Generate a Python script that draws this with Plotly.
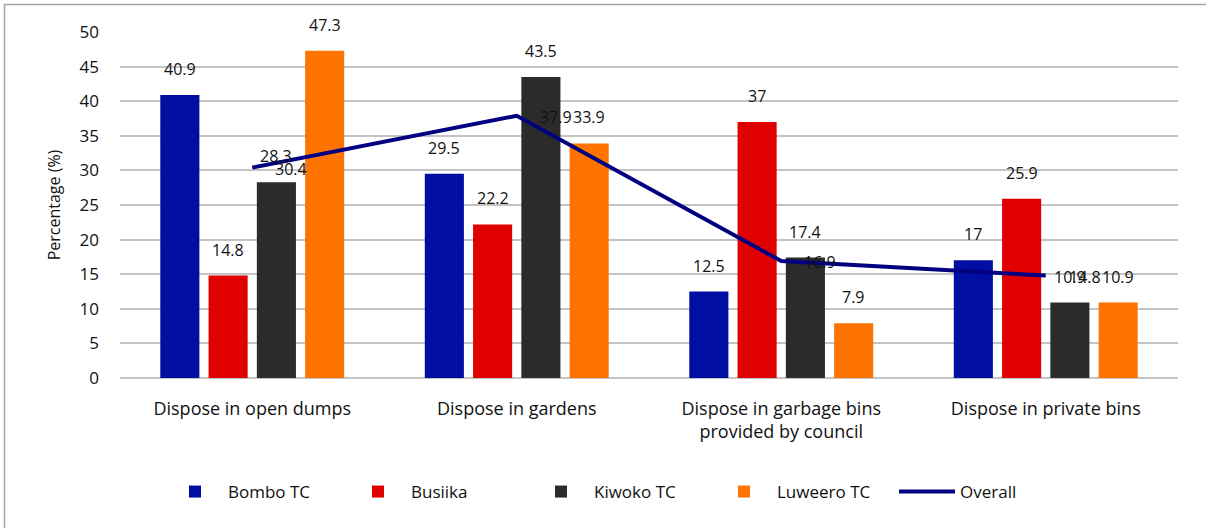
import plotly.graph_objects as go

categories = ["Dispose in open dumps", "Dispose in gardens",
              "Dispose in garbage bins<br>provided by council", "Dispose in private bins"]
bombo = [40.9, 29.5, 12.5, 17]
busiika = [14.8, 22.2, 37, 25.9]
kiwoko = [28.3, 43.5, 17.4, 10.9]
luweero = [47.3, 33.9, 7.9, 10.9]
overall = [30.4, 37.9, 16.9, 14.8]
y_ticks = [0, 5, 10, 15, 20, 25, 30, 35, 40, 45, 50]

W, H = 1206, 528
ML, MR, MT, MB = 120, 28, 32, 150
PW, PH = W - ML - MR, H - MT - MB
BARGAP, GROUPGAP = 0.27, 0.19

FAM = "Open Sans, Noto Sans, sans-serif"
num_font = dict(family=FAM, size=16, color="#111111")
cat_font = dict(family=FAM, size=18, color="#111111")

fig = go.Figure()
series = [("Bombo TC", bombo, "#000EA2"), ("Busiika", busiika, "#E00000"),
          ("Kiwoko TC", kiwoko, "#2B2B2B"), ("Luweero TC", luweero, "#FF7300")]
slot = PW / len(categories) * (1 - BARGAP) / len(series)
for i, (name, vals, col) in enumerate(series):
    fig.add_trace(go.Bar(
        name=name, x=categories, y=vals, marker=dict(color=col, line=dict(width=0))))
    dx = (i - (len(series) - 1) / 2) * slot
    for c, v in zip(categories, vals):
        fig.add_annotation(x=c, y=v, text=f"{v:g}", showarrow=False, font=num_font,
                           xanchor="center", yanchor="middle", xshift=dx, yshift=26)

fig.add_trace(go.Scatter(
    name="Overall", x=categories, y=overall, mode="lines",
    line=dict(color="#000080", width=4)))
for c, v in zip(categories, overall):
    fig.add_annotation(x=c, y=v, text=f"{v:g}", showarrow=False, font=num_font,
                       xanchor="left", yanchor="middle", xshift=21, yshift=-1)

def px_x(p):
    return (p - ML) / PW

def px_y(p):
    return (H - MB - p) / PH

fig.add_shape(type="rect", xref="paper", yref="paper",
              x0=px_x(4.5), x1=px_x(1212), y0=px_y(535), y1=px_y(4.5),
              line=dict(color="#A6A6A6", width=1.5), layer="below")

fig.update_layout(
    width=W, height=H, margin=dict(l=ML, r=MR, t=MT, b=MB, pad=0, autoexpand=False),
    paper_bgcolor="white", plot_bgcolor="white",
    barmode="group", bargap=BARGAP, bargroupgap=GROUPGAP,
    showlegend=True,
    legend=dict(orientation="h", x=px_x(162), xanchor="left", y=px_y(492), yanchor="middle",
                font=dict(family=FAM, size=17, color="#111111"),
                itemwidth=56, entrywidth=112, entrywidthmode="pixels",
                tracegroupgap=0, traceorder="normal"),
    xaxis=dict(tickfont=cat_font, showgrid=False, showline=False, ticks="", ticklen=0,
               ticklabelstandoff=18, automargin=False),
    yaxis=dict(range=[0, 50], tickvals=y_ticks, tickfont=dict(family=FAM, size=17, color="#111111"),
               showgrid=True, gridcolor="#C4C4C4", gridwidth=1.5, zeroline=True, zerolinecolor="#C4C4C4", zerolinewidth=1.5,
               ticks="", ticklabelstandoff=20, automargin=False,
               title=dict(text="Percentage (%)", font=dict(family=FAM, size=16, color="#111111"), standoff=14)),
)
fig.write_html("out.html", config={"displayModeBar": False},
               post_script="document.body.style.margin='0';")
